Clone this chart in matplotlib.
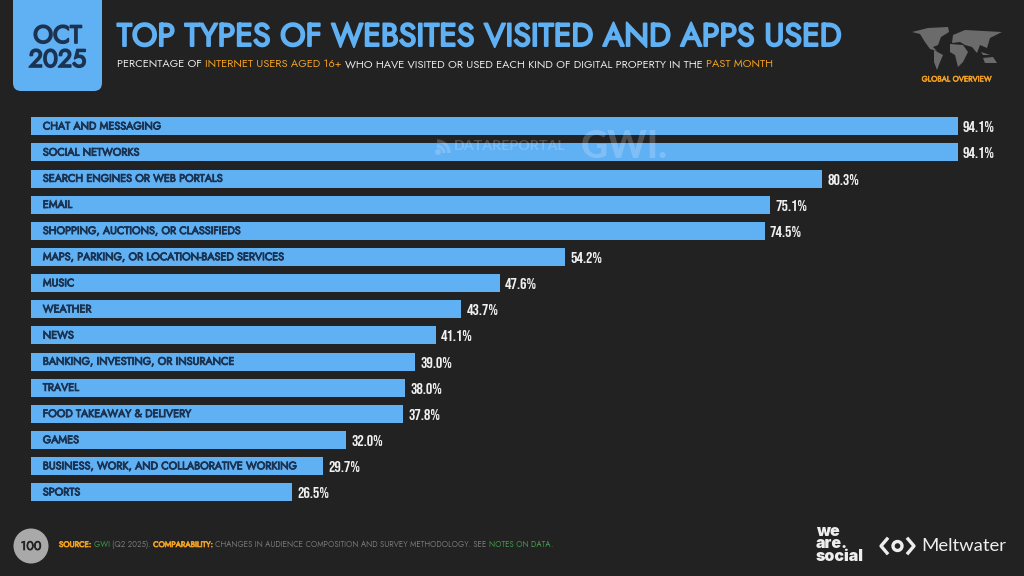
import matplotlib
matplotlib.use('Agg')
import matplotlib.pyplot as plt
import matplotlib.patheffects as pe
from matplotlib.patches import FancyBboxPatch, Circle, Polygon, Arc

categories = ['CHAT AND MESSAGING', 'SOCIAL NETWORKS', 'SEARCH ENGINES OR WEB PORTALS', 'EMAIL',
              'SHOPPING, AUCTIONS, OR CLASSIFIEDS', 'MAPS, PARKING, OR LOCATION-BASED SERVICES',
              'MUSIC', 'WEATHER', 'NEWS', 'BANKING, INVESTING, OR INSURANCE', 'TRAVEL',
              'FOOD TAKEAWAY & DELIVERY', 'GAMES', 'BUSINESS, WORK, AND COLLABORATIVE WORKING', 'SPORTS']
values = [94.1, 94.1, 80.3, 75.1, 74.5, 54.2, 47.6, 43.7, 41.1, 39.0, 38.0, 37.8, 32.0, 29.7, 26.5]

BG = '#222222'
BLUE = '#60b0f4'
NAVY = '#1b3350'
ORANGE = '#f0a020'
GREEN = '#3f9a4a'
MAIN = ['Jost', 'Lato', 'DejaVu Sans']
NARROW = ['Bebas Neue', 'Liberation Sans', 'DejaVu Sans']
plt.rcParams['font.family'] = MAIN


def heavy(col, w):
    # Jost only comes in one weight here, thicken it with a stroke
    return [pe.withStroke(linewidth=w, foreground=col)]


fig = plt.figure(figsize=(10.24, 5.76), dpi=100, facecolor=BG)

# overlay in pixel coordinates for the furniture
bg = fig.add_axes([0, 0, 1, 1])
bg.set_xlim(0, 1024)
bg.set_ylim(576, 0)
bg.axis('off')

# bars axes, 9.846 px per percent, 26.14 px per row
ax = fig.add_axes([31 / 1024, 1 - 507.9 / 576, 993 / 1024, 398.1 / 576])
ax.patch.set_alpha(0)
ax.set_xlim(0, 993 / 9.846)
ax.set_ylim(14.6, -0.63)
ax.axis('off')
ypos = list(range(len(values)))
ax.barh(ypos, values, height=0.69, color=BLUE, zorder=1)
for y, cat, val in zip(ypos, categories, values):
    ax.text(1.2, y + 0.01, cat, color=NAVY, fontsize=7.8, va='center', zorder=3, path_effects=heavy(NAVY, 0.6))
    ax.text(val + 0.55, y + 0.02, '%.1f%%' % val, color='#f0f0f0', fontsize=11.6, va='center',
            family=NARROW, zorder=3)

bg.set_zorder(0)
ax.set_zorder(1)
# watermark over the second bar
wm = fig.add_axes([0, 0, 1, 1], zorder=2)
wm.set_xlim(0, 1024)
wm.set_ylim(576, 0)
wm.axis('off')
wm.text(454, 146, 'DATAREPORTAL', color='#ffffff', alpha=0.2, fontsize=10.3, fontweight='bold', va='center',
        family=['Lato', 'DejaVu Sans'])
wm.text(581, 147, 'GWI.', color='#ffffff', alpha=0.2, fontsize=27, fontweight='black', va='center',
        family=['Lato', 'DejaVu Sans'])
wm.add_patch(Circle((438, 152), 3, fc='#ffffff', ec='none', alpha=0.2))
for rad in [14, 24]:
    wm.add_patch(Arc((437, 153), rad, rad, theta1=270, theta2=360, ec='#ffffff', alpha=0.2, lw=2.5))

# date tag
bg.add_patch(FancyBboxPatch((13, -20), 89, 111, boxstyle='round,pad=0,rounding_size=8', fc=BLUE, ec='none'))
bg.text(57.5, 36, 'OCT', color=NAVY, fontsize=18, ha='center', va='center', path_effects=heavy(NAVY, 1.2))
bg.text(57.5, 60, '2025', color=NAVY, fontsize=18, ha='center', va='center', path_effects=heavy(NAVY, 1.2))

# title
bg.text(117, 37, 'TOP TYPES OF WEBSITES VISITED AND APPS USED', color=BLUE, fontsize=23.15,
        va='center', path_effects=heavy(BLUE, 1.4))


def runs(x, y, parts, size):
    # lay coloured pieces end to end
    r = fig.canvas.get_renderer()
    for txt, col, thick in parts:
        t = bg.text(x, y, txt, color=col, fontsize=size, va='center')
        if thick:
            t.set_path_effects(heavy(col, 0.5))
        x += t.get_window_extent(r).width


runs(117, 65, [('PERCENTAGE OF ', '#e8e8e8', False),
               ('INTERNET USERS AGED 16+ ', ORANGE, False),
               ('WHO HAVE VISITED OR USED EACH KIND OF DIGITAL PROPERTY IN THE ', '#e8e8e8', False),
               ('PAST MONTH', ORANGE, False)], 7.94)

# footer
bg.add_patch(Circle((31, 546), 17.5, fc='#a9a9a9', ec='none'))
bg.text(31, 546.5, '100', color='#222222', fontsize=9, ha='center', va='center', path_effects=heavy('#222222', 0.5))
runs(59, 544.5, [('SOURCE: ', ORANGE, True), ('GWI ', GREEN, False), ('(Q2 2025). ', '#777777', False),
                 ('COMPARABILITY: ', ORANGE, True),
                 ('CHANGES IN AUDIENCE COMPOSITION AND SURVEY METHODOLOGY. SEE ', '#777777', False),
                 ('NOTES ON DATA', GREEN, False), ('.', '#777777', False)], 5.72)

# logos
bg.text(816, 544, 'we\nare.\nsocial', color='#eeeeee', fontsize=11.5, fontweight='black', va='center',
        linespacing=0.82, family=['Inter', 'DejaVu Sans'])
bg.text(921, 546, 'Meltwater', color='#eeeeee', fontsize=13.3, va='center', family=['Lato', 'DejaVu Sans'])
bg.add_patch(Circle((897.5, 546), 4.5, fc='none', ec='#eeeeee', lw=2.4))
bg.plot([887, 881, 887], [539, 546, 553], color='#eeeeee', lw=2.4)
bg.plot([908, 914, 908], [539, 546, 553], color='#eeeeee', lw=2.4)

# world map block, rough outlines
land = [
    [(912, 32), (928, 28), (948, 27), (949, 32), (941, 37), (938, 45), (933, 47), (937, 51), (930, 49), (925, 42), (920, 34)],
    [(934, 50), (943, 55), (940, 62), (937, 70), (934, 62)],
    [(953, 35), (965, 30), (1002, 32), (990, 38), (987, 48), (980, 45), (977, 53), (972, 47), (965, 45), (960, 42), (952, 43)],
    [(950, 44), (963, 45), (968, 52), (963, 62), (958, 67), (955, 55), (950, 52)],
    [(983, 58), (993, 57), (997, 63), (985, 63)],
    [(981, 52), (990, 55), (983, 55)],
]
for pts in land:
    bg.add_patch(Polygon(pts, closed=True, fc='#6b6b6b', ec='none'))
bg.text(956.5, 79, 'GLOBAL OVERVIEW', color=ORANGE, fontsize=5.6, ha='center', va='center',
        path_effects=heavy(ORANGE, 0.4))

fig.savefig('out.png', dpi=100, facecolor=BG)
